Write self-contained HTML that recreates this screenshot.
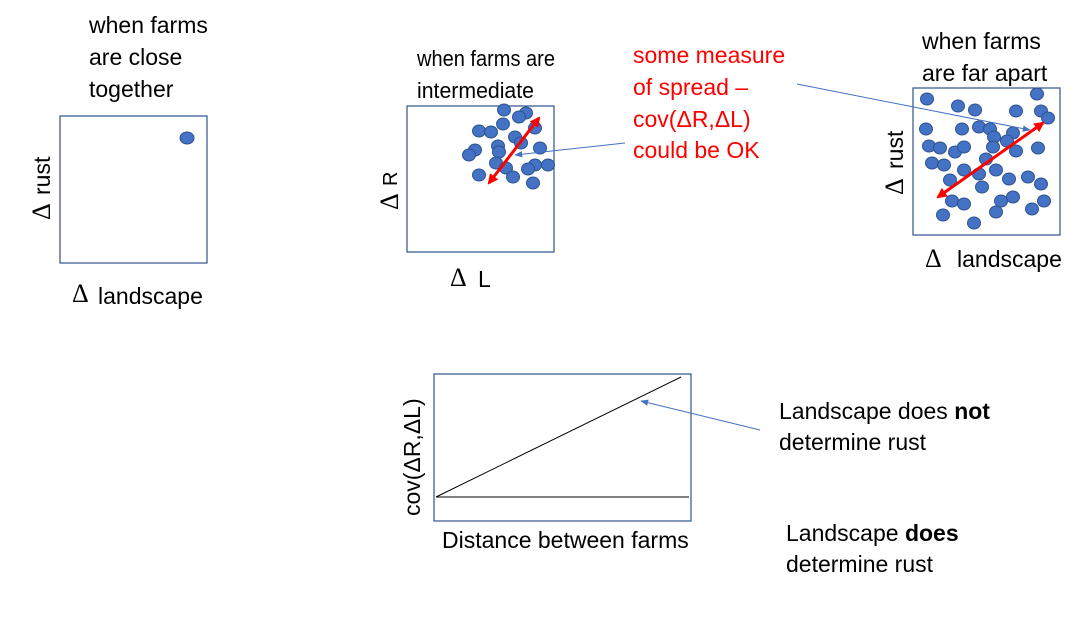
<!DOCTYPE html>
<html><head><meta charset="utf-8"><style>
html,body{margin:0;padding:0;background:#fff;width:1088px;height:620px;overflow:hidden}
svg{display:block}
text{font-family:"Liberation Sans","DejaVu Sans",sans-serif;font-size:23px;fill:#000}
.d{font-family:"Liberation Serif",serif;font-size:26px}
.sm{font-size:22px}
.red{fill:#ff0000}
</style></head><body>
<svg id="s" width="1088" height="620" viewBox="0 0 1088 620">
<defs>
<marker id="ab" viewBox="0 0 10 10" refX="9" refY="5" markerWidth="8" markerHeight="8" orient="auto-start-reverse"><path d="M0,1 L10,5 L0,9 z" fill="#4472c4"/></marker>
<marker id="ar" viewBox="0 0 10 10" refX="8" refY="5" markerWidth="3.5" markerHeight="3.5" orient="auto-start-reverse"><path d="M0,0 L10,5 L0,10 z" fill="#ff0000"/></marker>
</defs>
<g>
<text x="89" y="33">when farms</text><text x="89" y="65">are close</text><text x="89" y="97">together</text>
<rect x="60" y="116" width="147" height="147" fill="none" stroke="#2f528f" stroke-width="1.2"/>
<ellipse cx="187" cy="138" rx="7" ry="6" fill="#4472c4" stroke="#2f528f"/>
<g transform="translate(50,190) rotate(-90)"><text class="d" x="-30" y="0">Δ</text><text x="-5" y="0">rust</text></g>
<text class="d" x="72" y="302">Δ</text><text x="98" y="304">landscape</text>
</g>
<g id="mid">
<text class="sm" x="417" y="66" textLength="138" lengthAdjust="spacingAndGlyphs">when farms are</text><text class="sm" x="417" y="98" textLength="117" lengthAdjust="spacingAndGlyphs">intermediate</text>
<rect x="407" y="106" width="147" height="146" fill="none" stroke="#2f528f" stroke-width="1.2"/>
<g transform="translate(398,210) rotate(-90)"><text class="d" x="0" y="0">Δ</text><text x="24" y="-1" style="font-size:20px">R</text></g>
<text class="d" x="450" y="286">Δ</text><text x="478" y="287">L</text>
</g>
<text class="red" x="633" y="63">some measure</text>
<text class="red" x="633" y="95">of spread –</text>
<text class="red" x="633" y="127">cov(ΔR,ΔL)</text>
<text class="red" x="633" y="158">could be OK</text>
<g id="right">
<text x="922" y="49">when farms</text><text x="922" y="81">are far apart</text>
<rect x="913" y="88" width="147" height="147" fill="none" stroke="#2f528f" stroke-width="1.2"/>
<g transform="translate(903,195) rotate(-90)"><text class="d" x="0" y="0">Δ</text><text x="26" y="0">rust</text></g>
<text class="d" x="925" y="267">Δ</text><text x="957" y="267">landscape</text>
</g>
<g id="dots"></g>
<line x1="489" y1="183" x2="539" y2="118" stroke="#ff0000" stroke-width="3" marker-start="url(#ar)" marker-end="url(#ar)"/>
<line x1="938" y1="197" x2="1043" y2="123" stroke="#ff0000" stroke-width="3" marker-start="url(#ar)" marker-end="url(#ar)"/>
<line x1="625" y1="143" x2="515" y2="155" stroke="#4472c4" stroke-width="1" marker-end="url(#ab)"/>
<line x1="797" y1="84" x2="1030" y2="130" stroke="#4472c4" stroke-width="1" marker-end="url(#ab)"/>
<g>
<rect x="434" y="374" width="257" height="147" fill="none" stroke="#2f528f" stroke-width="1.2"/>
<line id="l1" stroke="#000" stroke-width="1"/>
<line id="l2" stroke="#000" stroke-width="1"/>
<g transform="translate(420,516) rotate(-90)"><text x="0" y="0">cov(ΔR,ΔL)</text></g>
<text x="442" y="548">Distance between farms</text>
</g>
<line x1="760" y1="430" x2="641" y2="401" stroke="#4472c4" stroke-width="1" marker-end="url(#ab)"/>
<text x="779" y="419">Landscape does <tspan font-weight="bold">not</tspan></text>
<text x="779" y="450">determine rust</text>
<text x="786" y="541">Landscape <tspan font-weight="bold">does</tspan></text>
<text x="786" y="572">determine rust</text>
</svg>
<script>
const midX=[504,526,519,503,535,479,491,515,521,498,475,469,499,540,496,506,535,528,548,479,513,533];
const midY=[110,113,117,124,128,131,132,137,143,146,150,155,152,148,163,168,165,169,165,175,177,183];
const farX=[927,958,975,1016,1037,1041,1048,926,962,979,990,994,1013,1007,929,940,955,964,993,1016,1038,932,944,986,964,979,996,950,1009,1028,1041,982,952,964,1001,1013,1044,943,974,996,1032];
const farY=[99,106,110,111,94,111,118,129,129,127,129,137,133,141,146,148,152,147,147,151,148,163,165,159,170,174,170,180,179,177,184,187,201,204,201,197,201,215,223,212,209];
const dSlope=[0,1];
const g=document.getElementById('dots');
function dot(x,y){const e=document.createElementNS('http://www.w3.org/2000/svg','ellipse');
e.setAttribute('cx',x);e.setAttribute('cy',y);e.setAttribute('rx',6.5);e.setAttribute('ry',6);
e.setAttribute('fill','#4472c4');e.setAttribute('stroke','#2f528f');


g.appendChild(e);}
midX.forEach((x,i)=>dot(x,midY[i]));
farX.forEach((x,i)=>dot(x,farY[i]));
const x0=436,y0=497,x1=681,y1=377;
const l1=document.getElementById('l1');
l1.setAttribute('x1',x0);l1.setAttribute('y1',y0);l1.setAttribute('x2',x1);l1.setAttribute('y2',y0-(y0-y1)*dSlope[1]);
const l2=document.getElementById('l2');
l2.setAttribute('x1',x0);l2.setAttribute('y1',y0);l2.setAttribute('x2',689);l2.setAttribute('y2',y0-(y0-y1)*dSlope[0]);
</script>
</body></html>
